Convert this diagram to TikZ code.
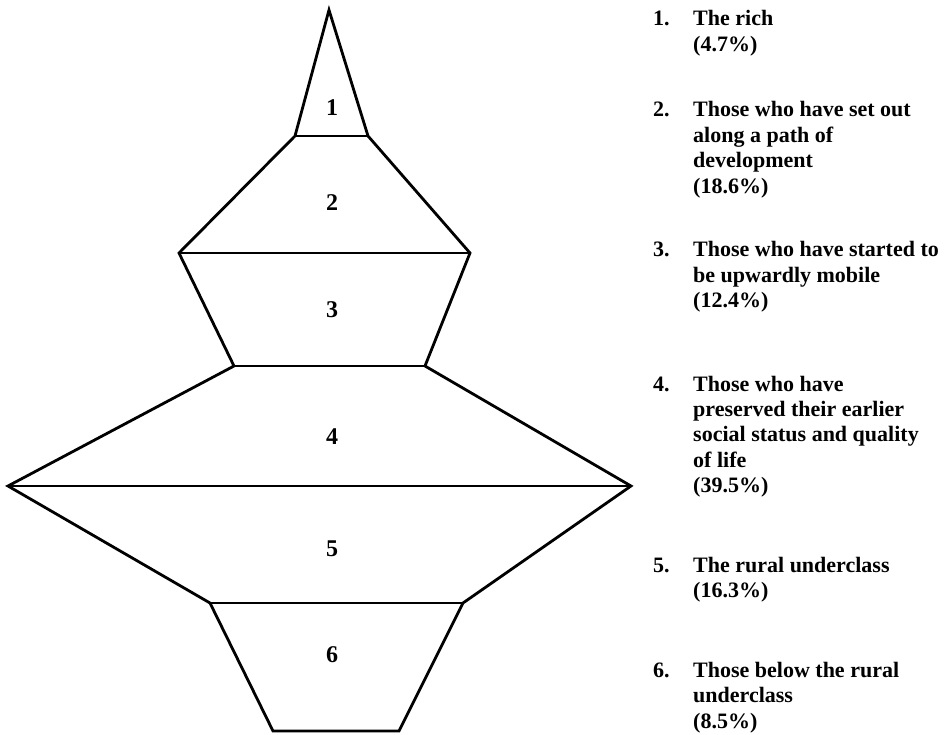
\documentclass[tikz,border=0pt]{standalone}
\usepackage{fontspec}
\setmainfont{Liberation Serif}
\tikzset{
  edge/.style  = {line width=2.8pt, line join=miter},
  layer/.style = {font=\fontsize{24}{28}\selectfont\bfseries, inner sep=0pt},
  num/.style   = {font=\fontsize{22}{25.5}\selectfont\bfseries, inner sep=0pt, anchor=base west},
  desc/.style  = {font=\fontsize{22}{25.5}\selectfont\bfseries, inner sep=0pt, anchor=base west},
}

\begin{document}
\begin{tikzpicture}[x=1pt, y=-1pt]
\useasboundingbox (0,0) rectangle (948,735);

% ── outline corners, top to bottom ────────────────────────────
\coordinate (A)  at (329,10);
\coordinate (L1) at (295,136); \coordinate (R1) at (368,136);
\coordinate (L2) at (179,253); \coordinate (R2) at (470,253);
\coordinate (L3) at (234,366); \coordinate (R3) at (425,366);
\coordinate (L4) at (8,486);   \coordinate (R4) at (631,486);
\coordinate (L5) at (210,603); \coordinate (R5) at (463,603);
\coordinate (L6) at (273,731); \coordinate (R6) at (399,731);

% outline
\draw[edge] (A) -- (R1) -- (R2) -- (R3) -- (R4) -- (R5) -- (R6)
  -- (L6) -- (L5) -- (L4) -- (L3) -- (L2) -- (L1) -- cycle;
% dividers
\foreach \k in {1,...,5}
  \draw[edge] (L\k) -- (R\k);

% layer numbers
\foreach \k/\y in {1/108, 2/203, 3/310, 4/437, 5/549, 6/655}
  \node[layer] (l\k) at (332,\y) {\k};

% ── legend on the right ───────────────────────────────────────
\foreach \k/\y/\txt in {%
    1/26/{The rich\\(4.7\%)},
    2/117/{Those who have set out\\along a path of\\development\\(18.6\%)},
    3/257/{Those who have started to\\be upwardly mobile\\(12.4\%)},
    4/391/{Those who have\\preserved their earlier\\social status and quality\\of life\\(39.5\%)},
    5/572/{The rural underclass\\(16.3\%)},
    6/677/{Those below the rural\\underclass\\(8.5\%)}}{
  \node[num] (n\k) at (653,\y) {\k.};
  \node[desc] (d\k) at (693,\y)
    {\begin{tabular}[t]{@{}l@{}}\txt\end{tabular}};
}

\end{tikzpicture}
\end{document}
